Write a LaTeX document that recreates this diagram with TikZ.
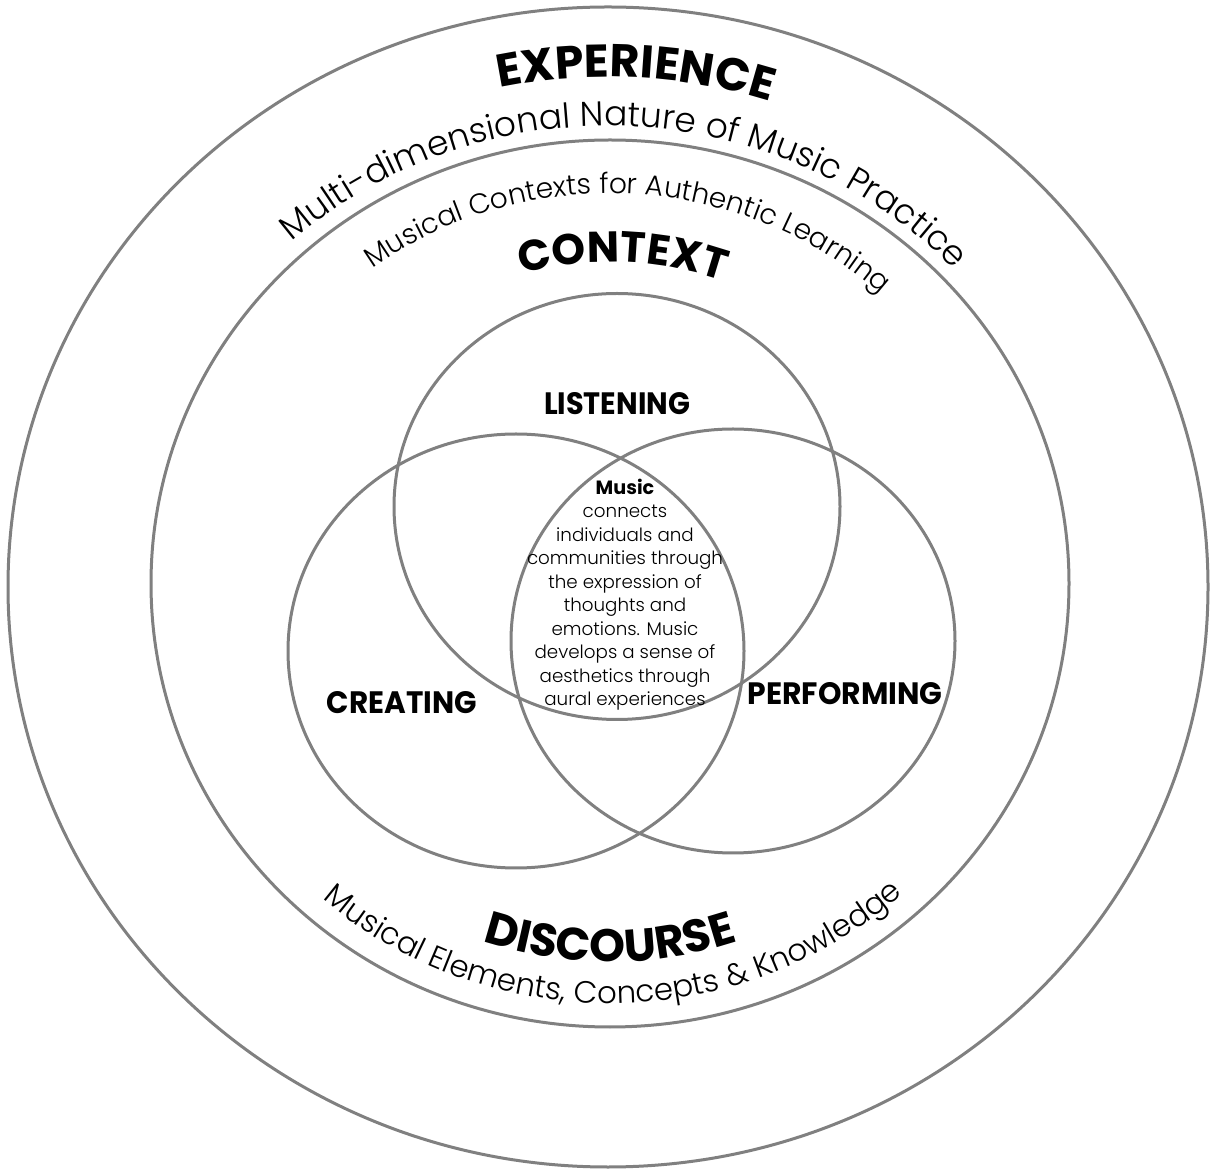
\documentclass[tikz,border=0pt]{standalone}
\usepackage{fontspec}
\usepackage{graphicx}
\setmainfont{Poppins}
\newfontfamily\pop{Poppins}
\IfFontExistsTF{Poppins Light}{\newfontfamily\popl{Poppins Light}}{\newfontfamily\popl{Poppins}}
\usetikzlibrary{decorations.text}
\definecolor{ringgray}{HTML}{808080}
\newlength\fitw
\newcommand\getsize[4]{%
  \settowidth{\fitw}{\normalfont#2\fontsize{10pt}{12pt}\selectfont #4}%
  \pgfmathsetmacro#1{10*#3/\fitw}}
% font sizes fitted to arc lengths
\getsize\sExp{\pop\bfseries}{137}{EXPERIENCE}
\getsize\sMulti{\popl}{364}{Multi-dimensional Nature of Music Practice}
\getsize\sCtxSub{\popl}{274}{Musical Contexts for Authentic Learning}
\getsize\sCtx{\pop\bfseries}{102}{CONTEXT}
\getsize\sDis{\pop\bfseries}{130}{DISCOURSE}
\getsize\sDisSub{\popl}{316}{Musical Elements, Concepts \& Knowledge}
\getsize\sBody{\popl}{98}{communities through}
\tikzset{
  ring/.style={draw=ringgray, line width=1.5pt},
  lbl/.style={inner sep=0pt, anchor=base, text=black},
}
\begin{document}
\begin{tikzpicture}[x=0.5pt, y=0.5pt]
\useasboundingbox (0,0) rectangle (1210,1168);
% rings
\draw[ring] (608,581) ellipse [x radius=600, y radius=580];
\draw[ring] (610,584.5) ellipse [x radius=459, y radius=443.5];
% venn circles
\draw[ring] (617,661.5) ellipse [x radius=223, y radius=213];
\draw[ring] (516,517) ellipse [x radius=228, y radius=217];
\draw[ring] (733,527) ellipse [x radius=222, y radius=212];
% curved texts, outer ring
\begin{scope}[shift={(608,581)}]
\path[decorate, decoration={text along path, text align=center,
  text={|\pop\bfseries\fontsize{\sExp pt}{\sExp pt}\selectfont|EXPERIENCE}}]
  (117:528 and 510) arc[start angle=117, end angle=57, x radius=528, y radius=510];
\path[decorate, decoration={text along path, text align=center,
  text={|\popl\fontsize{\sMulti pt}{\sMulti pt}\selectfont|Multi-dimensional Nature of Music Practice}}]
  (132.5:477 and 461) arc[start angle=132.5, end angle=42.5, x radius=477, y radius=461];
\end{scope}
\begin{scope}[shift={(610,584.5)}]
\path[decorate, decoration={text along path, text align=center,
  text={|\popl\fontsize{\sCtxSub pt}{\sCtxSub pt}\selectfont|Musical Contexts for Authentic Learning}}]
  (127:404 and 390) arc[start angle=127, end angle=47, x radius=404, y radius=390];
\path[decorate, decoration={text along path, text align=center,
  text={|\pop\bfseries\fontsize{\sCtx pt}{\sCtx pt}\selectfont|CONTEXT}}]
  (117.8:333 and 321.5) arc[start angle=117.8, end angle=57.8, x radius=333, y radius=321.5];
\path[decorate, decoration={text along path, text align=center,
  text={|\pop\bfseries\fontsize{\sDis pt}{\sDis pt}\selectfont|DISCOURSE}}]
  (240:392 and 378.5) arc[start angle=240, end angle=300, x radius=392, y radius=378.5];
\path[decorate, decoration={text along path, text align=center,
  text={|\popl\fontsize{\sDisSub pt}{\sDisSub pt}\selectfont|Musical Elements, Concepts {\&} Knowledge}}]
  (228:435 and 420) arc[start angle=228, end angle=313, x radius=435, y radius=420];
\end{scope}
% venn labels
\node[lbl] (listening) at (617,753) {\resizebox{73pt}{11pt}{\pop\bfseries LISTENING}};
\node[lbl] (creating) at (402,454) {\resizebox{75pt}{11pt}{\pop\bfseries CREATING}};
\node[lbl] (performing) at (845,463) {\resizebox{97.5pt}{11pt}{\pop\bfseries PERFORMING}};
% centre text (base anchor = last line)
\node[lbl, align=center, font=\popl\fontsize{\sBody pt}{11.75pt}\selectfont] (music) at (625,462)
  {{\pop\bfseries\fontsize{9.6pt}{11.75pt}\selectfont Music}\\connects\\individuals and\\communities through\\the expression of\\thoughts and\\emotions. Music\\develops a sense of\\aesthetics through\\aural experiences};
\end{tikzpicture}
\end{document}
